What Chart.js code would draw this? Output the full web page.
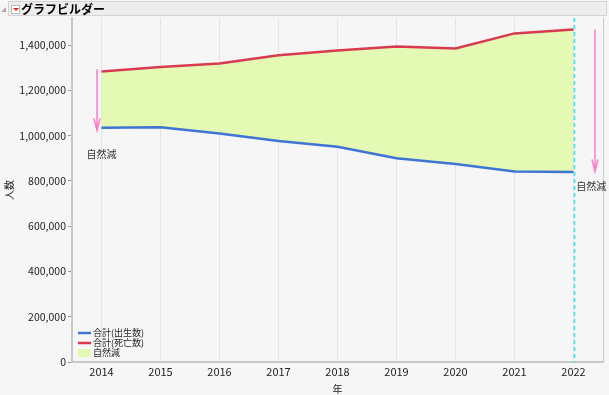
<!DOCTYPE html>
<html>
<head>
<meta charset="utf-8">
<script src="https://cdn.jsdelivr.net/npm/chart.js@4"></script>
<style>
  html, body { margin: 0; padding: 0; background: #f6f6f6; }
  body { width: 609px; height: 395px; position: relative; overflow: hidden; font-family: "Noto Sans CJK JP", sans-serif; }
  #hdr { position: absolute; left: 8px; top: 1px; width: 599px; height: 15px; background: #ededed; border: 1px solid #d4d4d4; box-sizing: border-box; }
  #hdr .t { position: absolute; left: 12px; top: -2px; font-size: 12px; font-weight: bold; color: #000; }
  #hdr .ic { position: absolute; left: 2px; top: 3px; width: 7px; height: 7px; background: #fff; border: 1px solid #bbb; }
  #hdr .ic:after { content: ""; position: absolute; left: 1px; top: 2px; border-left: 3px solid transparent; border-right: 3px solid transparent; border-top: 3px solid #d22; }
  #tri { position: absolute; left: 1px; top: 7px; width: 0; height: 0; border-left: 5px solid transparent; border-bottom: 5px solid #aaa; }
  #wrap { position: absolute; left: 0; top: 0; width: 609px; height: 395px; }
</style>
</head>
<body>
<div id="wrap"><canvas id="c" width="609" height="395"></canvas></div>
<div id="tri"></div>
<div id="hdr"><div class="ic"></div><div class="t">グラフビルダー</div></div>
<script>
const years = [2014, 2015, 2016, 2017, 2018, 2019, 2020, 2021, 2022];
const births = [1035000, 1037000, 1010000, 977000, 951000, 900000, 875000, 842000, 839000];
const deaths = [1284000, 1303000, 1319000, 1355000, 1376000, 1394000, 1385000, 1452000, 1469000];
const yTicks = [0, 200000, 400000, 600000, 800000, 1000000, 1200000, 1400000];
const legendItems = ['合計(出生数)', '合計(死亡数)', '自然減'];
const refYear = 2022;
// 矢印: x位置(年), 始点, 終点, ラベル
const arrows = [
    { x: 2013.93, from: 1293000, to: 1023000, label: '自然減', lx: 2014.0, ly: 920000 },
    { x: 2022.37, from: 1469000, to: 842000, label: '自然減', lx: 2022.3, ly: 775000 }
];

const blue = '#3f74d4';
const red = '#d93a50';
const fillColor = 'rgba(224, 250, 168, 0.85)';
const pink = '#ff7cc8';
const font = '"Noto Sans CJK JP", sans-serif';

const extras = {
    id: 'extras',
    beforeDatasetsDraw(chart) {
        const { ctx, chartArea: a } = chart;
        ctx.save();
        ctx.strokeStyle = '#c8c8c8';
        ctx.lineWidth = 1;
        ctx.beginPath();
        ctx.moveTo(a.right + 0.5, a.top);
        ctx.lineTo(a.right + 0.5, a.bottom);
        ctx.stroke();
        ctx.restore();
    },
    afterDatasetsDraw(chart) {
        const { ctx, chartArea: a, scales: { x, y } } = chart;
        ctx.save();
        // 2022 参照線
        const rx = Math.round(x.getPixelForValue(refYear)) + 0.5;
        ctx.strokeStyle = '#2ee6ee';
        ctx.lineWidth = 1.5;
        ctx.setLineDash([4, 3]);
        ctx.beginPath();
        ctx.moveTo(rx, a.top);
        ctx.lineTo(rx, a.bottom);
        ctx.stroke();
        ctx.setLineDash([]);

        // 矢印
        arrows.forEach(ar => {
            const px = Math.round(x.getPixelForValue(ar.x));
            const y0 = y.getPixelForValue(ar.from);
            const y1 = y.getPixelForValue(ar.to);
            ctx.strokeStyle = pink;
            ctx.lineWidth = 1.5;
            ctx.beginPath();
            ctx.moveTo(px, y0);
            ctx.lineTo(px, y1);
            ctx.moveTo(px - 3, y1 - 12);
            ctx.lineTo(px, y1);
            ctx.lineTo(px + 3, y1 - 12);
            ctx.stroke();
            ctx.fillStyle = '#333';
            ctx.font = '10px ' + font;
            ctx.textAlign = 'center';
            ctx.textBaseline = 'middle';
            ctx.fillText(ar.label, x.getPixelForValue(ar.lx), y.getPixelForValue(ar.ly));
        });

        // 凡例
        const lx = a.left + 6, ly0 = a.bottom - 29;
        ctx.font = '9px ' + font;
        ctx.textAlign = 'left';
        ctx.textBaseline = 'middle';
        legendItems.forEach((t, i) => {
            const ly = ly0 + i * 10;
            if (i < 2) {
                ctx.strokeStyle = i === 0 ? blue : red;
                ctx.lineWidth = 2.5;
                ctx.beginPath();
                ctx.moveTo(lx, ly);
                ctx.lineTo(lx + 13, ly);
                ctx.stroke();
            } else {
                ctx.fillStyle = fillColor;
                ctx.fillRect(lx, ly - 4, 13, 8);
            }
            ctx.fillStyle = '#222';
            ctx.fillText(t, lx + 15, ly);
        });
        ctx.restore();
    }
};

new Chart(document.getElementById('c').getContext('2d'), {
    type: 'line',
    data: {
        datasets: [
            {
                label: legendItems[0],
                data: years.map((yr, i) => ({ x: yr, y: births[i] })),
                borderColor: blue,
                borderWidth: 2.5,
                pointRadius: 0,
                tension: 0,
                fill: false
            },
            {
                label: legendItems[1],
                data: years.map((yr, i) => ({ x: yr, y: deaths[i] })),
                borderColor: red,
                borderWidth: 2.5,
                backgroundColor: fillColor,
                pointRadius: 0,
                tension: 0,
                fill: '-1'
            }
        ]
    },
    options: {
        responsive: false,
        animation: false,
        layout: { padding: { top: 18, right: 6, left: 3, bottom: 0 } },
        plugins: {
            legend: { display: false },
            tooltip: { enabled: false }
        },
        scales: {
            x: {
                type: 'linear',
                min: 2013.5,
                max: 2022.5,
                afterBuildTicks: s => { s.ticks = years.map(v => ({ value: v })); },
                afterFit: s => { s.height = 33; },
                border: { color: '#c8c8c8', width: 2 },
                grid: { color: '#e4e4e4', drawTicks: false },
                ticks: {
                    color: '#222',
                    padding: 3,
                    font: { size: 11, family: font },
                    callback: v => String(v)
                },
                title: {
                    display: true,
                    text: '年',
                    color: '#222',
                    padding: { top: 4, bottom: 0 },
                    font: { size: 10, family: font }
                }
            },
            y: {
                type: 'linear',
                min: 0,
                max: 1520000,
                afterBuildTicks: s => { s.ticks = yTicks.map(v => ({ value: v })); },
                afterFit: s => { s.width = 69; },
                border: { color: '#c8c8c8', width: 2 },
                grid: { drawOnChartArea: false, drawTicks: true, tickLength: 4, color: '#999' },
                ticks: {
                    color: '#222',
                    padding: 2,
                    font: { size: 10.5, family: font },
                    callback: v => v.toLocaleString('en-US')
                },
                title: {
                    display: true,
                    text: '人数',
                    color: '#222',
                    padding: { top: 0, bottom: 0 },
                    font: { size: 10, family: font }
                }
            }
        }
    },
    plugins: [extras]
});
</script>
</body>
</html>
